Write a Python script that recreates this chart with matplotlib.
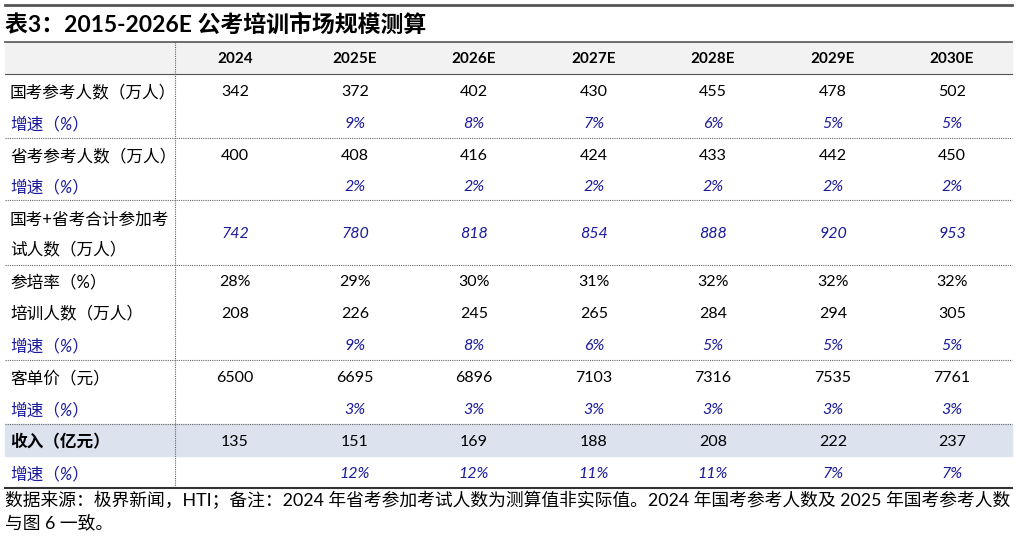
import matplotlib.pyplot as plt
from matplotlib.patches import Rectangle

plt.rcParams['font.family'] = ['Lato', 'Noto Sans CJK SC', 'DejaVu Sans']

years = ['2024', '2025E', '2026E', '2027E', '2028E', '2029E', '2030E']
national = [342, 372, 402, 430, 455, 478, 502]
national_g = ['', '9%', '8%', '7%', '6%', '5%', '5%']
provincial = [400, 408, 416, 424, 433, 442, 450]
provincial_g = ['', '2%', '2%', '2%', '2%', '2%', '2%']
total = [742, 780, 818, 854, 888, 920, 953]
train_rate = ['28%', '29%', '30%', '31%', '32%', '32%', '32%']
trainees = [208, 226, 245, 265, 284, 294, 305]
trainees_g = ['', '9%', '8%', '6%', '5%', '5%', '5%']
price = [6500, 6695, 6896, 7103, 7316, 7535, 7761]
price_g = ['', '3%', '3%', '3%', '3%', '3%', '3%']
revenue = [135, 151, 169, 188, 208, 222, 237]
revenue_g = ['', '12%', '12%', '11%', '11%', '7%', '7%']

BLUE = '#1a1a9c'
GROW = '增速（%）'

# (label, values, top, bottom, style)
rows = [
    ('国考参考人数（万人）', national, 74, 106, 'n'),
    (GROW, national_g, 106, 138, 'g'),
    ('省考参考人数（万人）', provincial, 138, 170, 'n'),
    (GROW, provincial_g, 170, 200, 'g'),
    ('国考+省考合计参加考\n试人数（万人）', total, 200, 265, 't'),
    ('参培率（%）', train_rate, 265, 296, 'n'),
    ('培训人数（万人）', trainees, 296, 328, 'n'),
    (GROW, trainees_g, 328, 360, 'g'),
    ('客单价（元）', price, 360, 392, 'n'),
    (GROW, price_g, 392, 424, 'g'),
    ('收入（亿元）', revenue, 424, 456, 'b'),
    (GROW, revenue_g, 456, 488, 'g'),
]
dotted_after = [138, 200, 265, 360, 424]

W, H = 1018, 537
fig = plt.figure(figsize=(W / 100, H / 100), dpi=100)
ax = fig.add_axes([0, 0, 1, 1])
ax.set_xlim(0, W)
ax.set_ylim(H, 0)
ax.axis('off')

L, R, C0 = 5, 1012, 175
xs = [235, 355, 474, 594, 713, 833, 952]

ax.plot([L, R], [5, 5], color='#555555', lw=2)
ax.text(L, 25, '表3：2015-2026E 公考培训市场规模测算', fontsize=16.5, fontweight='bold',
        va='center', ha='left')
ax.plot([L, R], [42, 42], color='#555555', lw=1.2)

ax.add_patch(Rectangle((L, 42), R - L, 32, color='#f2f2f2', zorder=0))
ax.plot([L, R], [74, 74], color='#555555', lw=0.8)
for x, y in zip(xs, years):
    ax.text(x, 59, y, fontsize=11, fontweight='bold', ha='center', va='center')

for label, vals, top, bot, style in rows:
    mid = (top + bot) / 2 + 2
    if style == 'b':
        ax.add_patch(Rectangle((L, top), R - L, bot - top, color='#dce3ef', zorder=0))
    if style == 'g':
        ax.text(10, mid, label, fontsize=12, color=BLUE, style='italic', ha='left', va='center')
    else:
        ax.text(10, mid, label, fontsize=12, ha='left', va='center',
                fontweight='bold' if style == 'b' else 'normal', linespacing=2.0)
    for x, v in zip(xs, vals):
        color = BLUE if style in ('g', 't') else 'black'
        st = 'italic' if style in ('g', 't') else 'normal'
        ax.text(x, mid, str(v), fontsize=11.5, color=color, style=st, ha='center', va='center')

for y in dotted_after:
    ax.plot([L, R], [y, y], color='#666666', lw=0.8, ls=(0, (1, 1)))
ax.plot([C0, C0], [42, 488], color='#666666', lw=0.8, ls=(0, (1, 1)))
ax.plot([L, R], [488, 488], color='#333333', lw=1.5)

ax.text(L, 500, '数据来源：极界新闻，HTI；备注：2024 年省考参加考试人数为测算值非实际值。2024 年国考参考人数及 2025 年国考参考人数',
        fontsize=12.8, ha='left', va='center')
ax.text(L, 523, '与图 6 一致。', fontsize=12.8, ha='left', va='center')

fig.savefig('out.png', dpi=100)
